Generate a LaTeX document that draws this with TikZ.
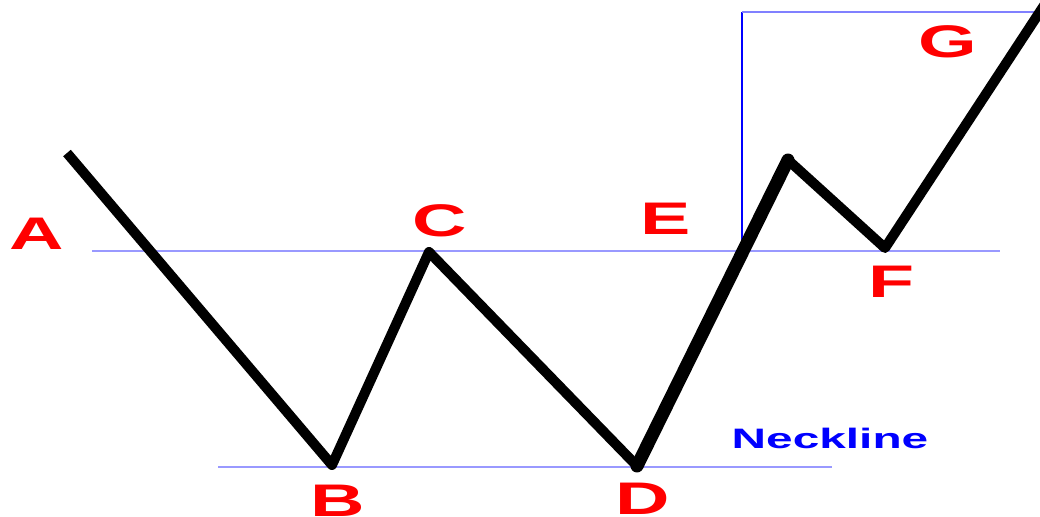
\documentclass[tikz,border=0pt]{standalone}
\usepackage{fontspec}
\setmainfont{Liberation Sans}

\newcommand{\wide}[2][1.65]{\scalebox{#1}[1]{#2}}

\begin{document}
\begin{tikzpicture}[x=1cm,y=1cm,
  pt/.style={red,font=\fontsize{26}{26}\selectfont\bfseries,inner sep=0pt},
  guide/.style={blue!40,line width=0.6pt},
  zig/.style={line width=0.2cm,line join=round}]
  \useasboundingbox (0,0) rectangle (20.8,10.32);
  % puntos del patron
  \coordinate (a) at (1.34,7.26);
  \coordinate (b) at (6.64,1.02);
  \coordinate (c) at (8.58,5.28);
  \coordinate (d) at (12.74,1.00);
  \coordinate (e) at (15.76,7.12);
  \coordinate (f) at (17.70,5.36);
  \coordinate (g) at (20.90,10.24);
  % lineas guia
  \coordinate (rl) at (1.84,5.30); \coordinate (rr) at (20.00,5.30);
  \coordinate (nl) at (4.36,0.98); \coordinate (nr) at (16.64,0.98);
  \coordinate (vb) at (14.84,5.30); \coordinate (vt) at (14.84,10.08);
  \coordinate (tr) at (20.80,10.08);
  \draw[guide] (rl)--(rr);
  \draw[guide] (nl)--(nr);
  \draw[blue,line width=0.6pt] (vb)--(vt);
  \draw[blue!50,line width=0.6pt] (vt)--(tr);
  % zigzag
  \draw[zig] (a)--(b)--(c)--(d);
  \draw[line width=0.26cm,line cap=round] (d)--(e);
  \draw[zig] (e)--(f)--(g);
  % etiquetas
  \node[pt] (la) at (0.74,5.64) {\wide{A}};
  \node[pt] (lb) at (6.76,0.30) {\wide{B}};
  \node[pt] (lc) at (8.80,5.90) {\wide{C}};
  \node[pt] (ld) at (12.86,0.34) {\wide{D}};
  \node[pt] (le) at (13.32,5.94) {\wide{E}};
  \node[pt] (lf) at (17.84,4.68) {\wide{F}};
  \node[pt] (lg) at (18.96,9.48) {\wide{G}};
  \node[blue,font=\fontsize{16}{16}\selectfont\bfseries,inner sep=0pt] (neck) at (16.60,1.56) {\wide[1.7]{Neckline}};
\end{tikzpicture}
\end{document}
